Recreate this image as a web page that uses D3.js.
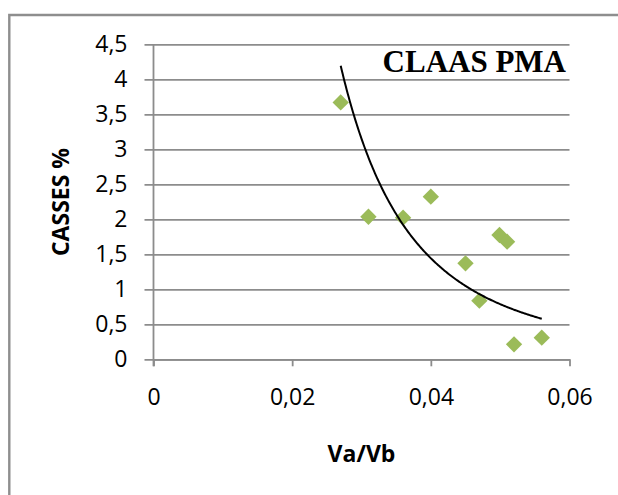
<!DOCTYPE html>
<html>
<head>
<meta charset="utf-8">
<script src="https://cdn.jsdelivr.net/npm/d3@7"></script>
<style>
  html, body { margin: 0; padding: 0; background: #fff; }
  svg { display: block; }
</style>
</head>
<body>
<svg id="chart" width="618" height="495"></svg>
<script>
// Breakage rate (CASSES %) against the Va/Vb ratio
const ratio  = [0.027, 0.031, 0.036, 0.040, 0.045, 0.047, 0.0499, 0.051, 0.052, 0.056];
const casses = [3.67, 2.037, 2.023, 2.323, 1.371, 0.837, 1.776, 1.68, 0.214, 0.309];
const xTicks = [0, 0.02, 0.04, 0.06];
const yTicks = [0, 0.5, 1, 1.5, 2, 2.5, 3, 3.5, 4, 4.5];
const title = "CLAAS PMA";
const xTitle = "Va/Vb";
const yTitle = "CASSES %";

const svg = d3.select("#chart");
const plot = { left: 153.5, right: 569.5, top: 44.3, bottom: 359.3 };

const x = d3.scaleLinear().domain([0, 0.06]).range([plot.left, plot.right]);
const y = d3.scaleLinear().domain([0, 4.5]).range([plot.bottom, plot.top]);
const fmt = d => String(d).replace(".", ",");

const gridColor = "#8c8c8c";
const labelFont = "'Open Sans', 'DejaVu Sans', sans-serif";

// chart frame (open on the right and bottom edges of the page)
svg.append("path")
  .attr("d", "M9.3,495 L9.3,15 L618,15")
  .attr("fill", "none")
  .attr("stroke", "#8e8e8e")
  .attr("stroke-width", 2.4);

// horizontal gridlines with outside ticks
const yAxis = d3.axisLeft(y).tickValues(yTicks).tickFormat(fmt)
  .tickSizeInner(-(plot.right - plot.left)).tickSizeOuter(0).tickPadding(17);
const gy = svg.append("g").attr("transform", `translate(${plot.left},0)`).call(yAxis);
gy.select(".domain").remove();
gy.selectAll(".tick line")
  .attr("x1", -9)
  .attr("stroke", gridColor)
  .attr("stroke-width", 1.8);
gy.selectAll(".tick text")
  .attr("x", -26)
  .attr("fill", "#000")
  .style("font-family", labelFont)
  .style("font-size", "23px");

// x axis with downward ticks
const xAxis = d3.axisBottom(x).tickValues(xTicks).tickFormat(fmt)
  .tickSizeInner(7).tickSizeOuter(0).tickPadding(22);
const gx = svg.append("g").attr("transform", `translate(0,${plot.bottom})`).call(xAxis);
gx.select(".domain").attr("stroke", gridColor).attr("stroke-width", 1.8);
gx.selectAll(".tick line").attr("stroke", gridColor).attr("stroke-width", 1.8);
gx.selectAll(".tick text")
  .attr("fill", "#000")
  .style("font-family", labelFont)
  .style("font-size", "23px");

// vertical axis line
svg.append("line")
  .attr("x1", x(0)).attr("x2", x(0))
  .attr("y1", y(4.5)).attr("y2", y(0) + 7)
  .attr("stroke", gridColor).attr("stroke-width", 1.8);

// power trendline y = a * x^b, least squares on logs
const lx = ratio.map(Math.log), ly = casses.map(Math.log);
const mx = d3.mean(lx), my = d3.mean(ly);
const b = d3.sum(lx, (v, i) => (v - mx) * (ly[i] - my)) / d3.sum(lx, v => (v - mx) ** 2);
const a = Math.exp(my - b * mx);
const [x0, x1] = d3.extent(ratio);
const curve = d3.range(0, 201).map(i => {
  const v = x0 + (x1 - x0) * i / 200;
  return [v, a * Math.pow(v, b)];
});

// markers
const diamond = d3.symbol().type(d3.symbolDiamond2).size(170);
svg.append("g").selectAll("path")
  .data(ratio.map((v, i) => [v, casses[i]]))
  .join("path")
  .attr("transform", d => `translate(${x(d[0])},${y(d[1])})`)
  .attr("d", diamond)
  .attr("fill", "#9bbb59");

svg.append("path")
  .datum(curve)
  .attr("d", d3.line().x(d => x(d[0])).y(d => y(d[1])))
  .attr("fill", "none")
  .attr("stroke", "#000")
  .attr("stroke-width", 2);

// titles
svg.append("text")
  .attr("x", 566).attr("y", 72.3)
  .attr("text-anchor", "end")
  .style("font-family", "'Liberation Serif', 'Times New Roman', serif")
  .style("font-weight", "bold")
  .style("font-size", "31px")
  .text(title);

svg.append("text")
  .attr("x", (plot.left + plot.right) / 2).attr("y", 462)
  .attr("text-anchor", "middle")
  .style("font-family", labelFont)
  .style("font-weight", "bold")
  .style("font-size", "23px")
  .text(xTitle);

svg.append("text")
  .attr("transform", "translate(69,202) rotate(-90)")
  .attr("text-anchor", "middle")
  .style("font-family", labelFont)
  .style("font-weight", "bold")
  .style("font-size", "23px")
  .text(yTitle);
</script>
</body>
</html>
